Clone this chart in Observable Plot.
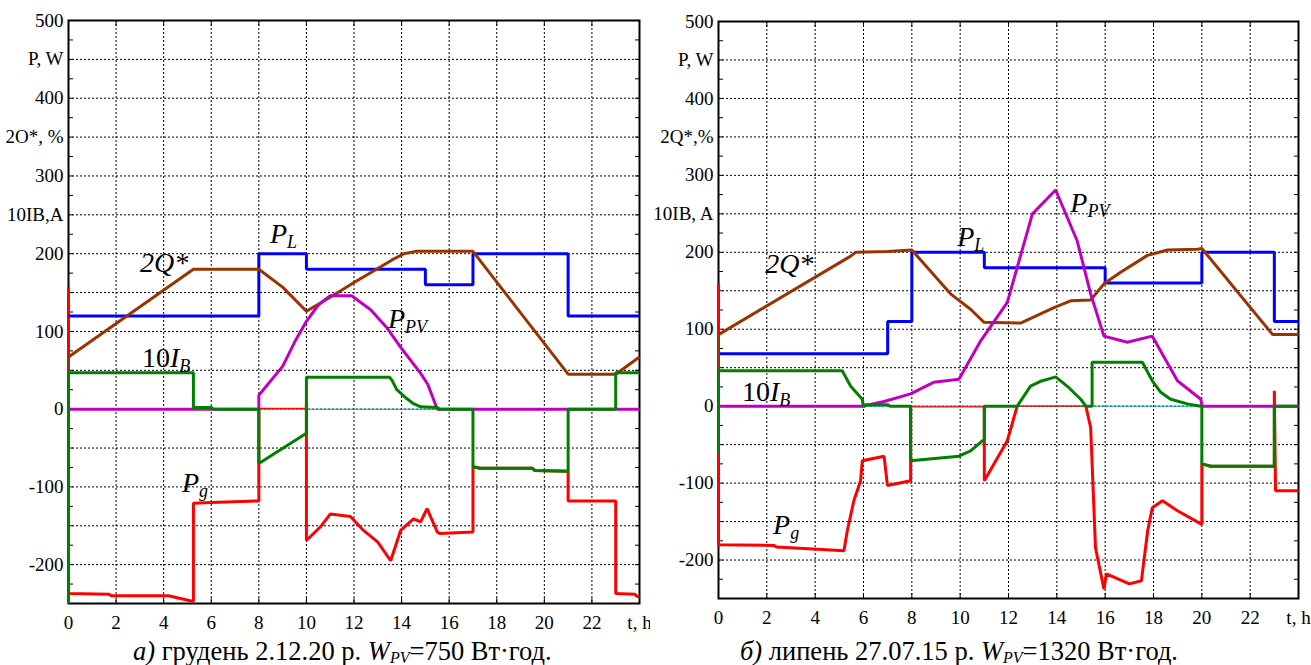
<!DOCTYPE html>
<html>
<head>
<meta charset="utf-8">
<script src="https://cdn.jsdelivr.net/npm/d3@7"></script>
<script src="https://cdn.jsdelivr.net/npm/@observablehq/plot@0.6"></script>
<style>
  body { margin: 0; background: #fff; width: 1311px; height: 665px; overflow: hidden; position: relative;
         font-family: "Liberation Serif", "Times New Roman", Tinos, "DejaVu Serif", serif; }
  .panel { position: absolute; top: 0; }
  .cap { position: absolute; top: 638px; font-size: 26.5px; line-height: 26px; white-space: nowrap; color: #000; }
  .cap .sb { font-size: 16px; position: relative; top: 3px; }
</style>
</head>
<body>
<div id="left" class="panel" style="left:0px"></div>
<div id="right" class="panel" style="left:650px"></div>
<div class="cap" style="left:133px"><i>а)</i> грудень 2.12.20 р. <i>W<span class="sb">PV</span></i>=750 Вт·год.</div>
<div class="cap" style="left:740px"><i>б)</i> липень 27.07.15 р. <i>W<span class="sb">PV</span></i>=1320 Вт·год.</div>
<script>
const FONT = '"Liberation Serif", "Times New Roman", Tinos, "DejaVu Serif", serif';
// ---------- axes / ticks ----------
const xTickValues = [0, 2, 4, 6, 8, 10, 12, 14, 16, 18, 20, 22, 24];
const xTickText   = ["0", "2", "4", "6", "8", "10", "12", "14", "16", "18", "20", "22", "t, h"];
const xGridValues = [2, 4, 6, 8, 10, 12, 14, 16, 18, 20, 22];
const yTickValues = [-200, -100, 0, 100, 200, 250, 300, 350, 400, 450, 500];
const yTickTextLeft  = ["-200", "-100", "0", "100", "200", "10IB,A", "300", "2O*, %", "400", "P, W", "500"];
const yTickTextRight = ["-200", "-100", "0", "100", "200", "10IB, A", "300", "2Q*,%", "400", "P, W", "500"];
const yGridValues = [-200, -150, -100, -50, 0, 50, 100, 150, 200, 250, 300, 350, 400, 450];
const yMinorValues = [-225, -200, -175, -150, -125, -100, -75, -50, -25, 0, 25, 50, 75, 100, 125, 150, 175, 200,
                      225, 250, 275, 300, 325, 350, 375, 400, 425, 450, 475];

// ---------- panel a) грудень 2.12.20 ----------
const pLoadA = [[0,120],[8,120],[8,200],[10,200],[10,180],[15,180],[15,160],[17,160],[17,200],[21,200],[21,120],[24,120]];
const q2A = [[0,0],[0,67],[5.25,180],[8,180],[9,157],[10,126],[11,144],[12,163],[13,181],[13.6,192],[14.1,200],
             [14.6,203],[17,203],[21,45],[23,45],[24,67]];
const pPvA = [[0,0],[8,0],[8,18],[9,55],[9.5,86],[10,113],[10.5,134],[11,146],[11.9,146],[12.7,128],[13.4,104],
              [14,78],[14.8,46],[15.1,32],[15.5,0],[24,0]];
const iBA = [[0,-250],[0,47],[5.25,47],[5.25,2],[6,2],[6.1,0],[8,0],[8,-70],[10,-31],[10,41],[13.5,41],[13.6,37],
             [13.8,25],[14.2,14],[14.5,7],[14.8,3],[15.5,2],[15.6,0],[17,0],[17,-74],[17.3,-76],[19.5,-76],
             [19.6,-79],[21,-80],[21,0],[23,0],[23,47],[24,47]];
const pGridA = [[0,157],[0,-237],[1.7,-238],[1.8,-240],[4.2,-240],[5.2,-247],[5.25,-247],[5.25,-121],[6,-120],
                [8,-118],[8,0],[9,null],[10,8],[10,-169],[10.6,-151],[11,-135],[11.85,-138],[12.4,-156],[13,-171],
                [13.54,-195],[13.96,-156],[14.5,-141],[14.8,-145],[15.07,-128],[15.5,-158],[15.6,-160],[17,-158],
                [17,-74],[17.3,-76],[19.5,-76],[19.6,-79],[21,-80],[21,-118],[23,-118],[23,-237],[23.8,-238],
                [23.9,-241],[24,-241]];
const pGridZeroA = [[8,10,1]];
const labelsA = [
  {name: "PL", t: 8.49, v: 213},
  {name: "2Q", t: 3.03, v: 176},
  {name: "PPV", t: 13.45, v: 104},
  {name: "IB", t: 3.11, v: 53},
  {name: "Pg", t: 4.79, v: -107}
];

// ---------- panel б) липень 27.07.15 ----------
const pLoadB = [[0,68],[7,68],[7,110],[8,110],[8,200],[11,200],[11,180],[16,180],[16,160],[20,160],[20,200],
                [23,200],[23,110],[24,110]];
const q2B = [[0,0],[0,93],[5.47,195],[5.67,200],[7,201],[8,203],[9.6,146],[10.43,126],[10.99,109],[12.5,108],
             [13.88,128],[14.57,137],[15.4,138],[15.95,159],[16.64,174],[17.75,196],[18.58,203],[19.82,204],
             [20,205],[22.93,93],[24,93]];
const pPvB = [[0,0],[5.95,0],[6.85,6],[7.95,16],[8.9,31],[9.95,35],[10.85,85],[11.95,135],[12.99,250],[13.95,281],
              [14.84,215],[15.4,146],[15.95,91],[16.92,83],[17.95,91],[18.99,33],[19.96,9],[20,0],[24,0]];
const iBB = [[0,-62],[0,46],[5.12,46],[5.47,26],[5.95,9],[6,-1],[6.1,2],[7,2],[7.1,0],[7.95,0],[7.95,-71],
             [9.95,-65],[10.43,-58],[10.92,-45],[11,-45],[11,0],[12.36,0],[12.91,26],[13.3,32],[13.95,38],
             [14.5,24],[14.99,9],[15.2,0],[15.46,0],[15.46,57],[17.54,57],[17.95,33],[18.3,18],[18.71,9],
             [19.4,3],[19.95,0],[20,0],[20,-75],[20.37,-78],[23,-78],[23,0],[24,0]];
const pGridB = [[0,160],[0,-180],[2.29,-181],[2.4,-183],[4.09,-186],[5.19,-188],[5.33,-162],[5.6,-123],
                [5.88,-97],[5.95,-71],[6.85,-65],[6.99,-103],[7.95,-97],[7.95,-1],[9,null],[11,-1],[11,-97],
                [11.95,-45],[12.36,0],[13,null],[15.2,0],[15.4,-28],[15.6,-184],[15.95,-238],[16.05,-218],
                [17,-231],[17.5,-227],[17.76,-162],[17.95,-132],[18.37,-123],[18.99,-136],[19.96,-153],
                [20,-153],[20,-75],[20.37,-78],[23,-78],[23,20],[23.05,-110],[24,-110]];
const pGridZeroB = [[7.95,11,-1],[12.36,15.2,0]];
const labelsB = [
  {name: "PL", t: 9.9, v: 208},
  {name: "2Q", t: 1.95, v: 172},
  {name: "PPV", t: 14.58, v: 252},
  {name: "IB", t: 0.99, v: 6},
  {name: "Pg", t: 2.28, v: -167}
];

// ---------- colors ----------
const C = {load: "#0000ff", soc: "#993300", pv: "#c000c0", batt: "#008000", grid: "#ff0000", ref: "#00b4b4"};

const labelParts = {
  PL:  [["P", true, false], ["L", true, true]],
  "2Q": [["2Q*", true, false]],
  PPV: [["P", true, false], ["PV", true, true]],
  IB:  [["10", false, false], ["I", true, false], ["B", true, true]],
  Pg:  [["P", true, false], ["g", true, true]]
};

function panel(el, cfg) {
  const X = d => d[0], Y = d => d[1];
  const lineOpts = (stroke) => ({x: X, y: Y, stroke, strokeWidth: 3, strokeLinejoin: "miter", strokeLinecap: "butt"});
  const grid = {stroke: "black", strokeOpacity: 1, strokeWidth: 1, strokeDasharray: "2,2"};
  const plot = Plot.plot({
    width: cfg.width, height: cfg.height,
    marginLeft: cfg.ml, marginRight: cfg.mr, marginTop: cfg.mt, marginBottom: cfg.mb,
    style: {fontFamily: FONT, background: "white", color: "black", overflow: "visible"},
    x: {domain: [0, 24]},
    y: {domain: [-250, 500]},
    marks: [
      Plot.gridX(xGridValues, grid),
      Plot.gridY(yGridValues, grid),
      Plot.frame({stroke: "black", strokeWidth: 2}),
      Plot.axisY(yMinorValues, {anchor: "left", tickSize: -5, tickFormat: () => "", label: null}),
      Plot.axisY(yMinorValues, {anchor: "right", tickSize: -5, tickFormat: () => "", label: null}),
      Plot.axisX(xTickValues, {anchor: "bottom", tickSize: -5, tickFormat: () => "", label: null}),
      Plot.axisX(xTickValues, {anchor: "top", tickSize: -5, tickFormat: () => "", label: null}),
      Plot.axisY(yTickValues, {anchor: "left", tickSize: 0, tickPadding: 5, fontSize: 19, label: null,
        tickFormat: v => cfg.yText[yTickValues.indexOf(v)]}),
      Plot.axisX(xTickValues, {anchor: "bottom", tickSize: 0, tickPadding: 12, fontSize: 19, label: null,
        tickFormat: v => xTickText[xTickValues.indexOf(v)]}),
      Plot.ruleY([0], {stroke: C.ref, strokeWidth: 1}),
      Plot.ruleY(cfg.zero, {x1: d => d[0], x2: d => d[1], y: d => d[2], stroke: C.grid, strokeWidth: 1.2}),
      Plot.line(cfg.grid, lineOpts(C.grid)),
      Plot.line(cfg.load, lineOpts(C.load)),
      Plot.line(cfg.soc, lineOpts(C.soc)),
      Plot.line(cfg.pv, lineOpts(C.pv)),
      Plot.line(cfg.batt, lineOpts(C.batt))
    ]
  });
  const sx = plot.scale("x"), sy = plot.scale("y");
  const svg = d3.select(plot);
  for (const lb of cfg.labels) {
    const t = svg.append("text")
      .attr("x", sx.apply(lb.t)).attr("y", sy.apply(lb.v))
      .attr("text-anchor", "start")
      .style("font-family", FONT)
      .attr("font-size", 28).attr("fill", "black");
    for (const [s, it, sub] of labelParts[lb.name]) {
      const sp = t.append("tspan").text(s).attr("font-style", it ? "italic" : "normal");
      if (sub) sp.attr("font-size", 18).attr("dy", 5);
    }
  }
  el.appendChild(plot);
}

panel(document.getElementById("left"), {
  width: 655, height: 632, ml: 68, mr: 16, mt: 20, mb: 29,
  yText: yTickTextLeft, load: pLoadA, soc: q2A, pv: pPvA, batt: iBA, grid: pGridA, zero: pGridZeroA, labels: labelsA
});
panel(document.getElementById("right"), {
  width: 661, height: 632, ml: 68, mr: 13, mt: 21, mb: 34,
  yText: yTickTextRight, load: pLoadB, soc: q2B, pv: pPvB, batt: iBB, grid: pGridB, zero: pGridZeroB, labels: labelsB
});
</script>
</body>
</html>
